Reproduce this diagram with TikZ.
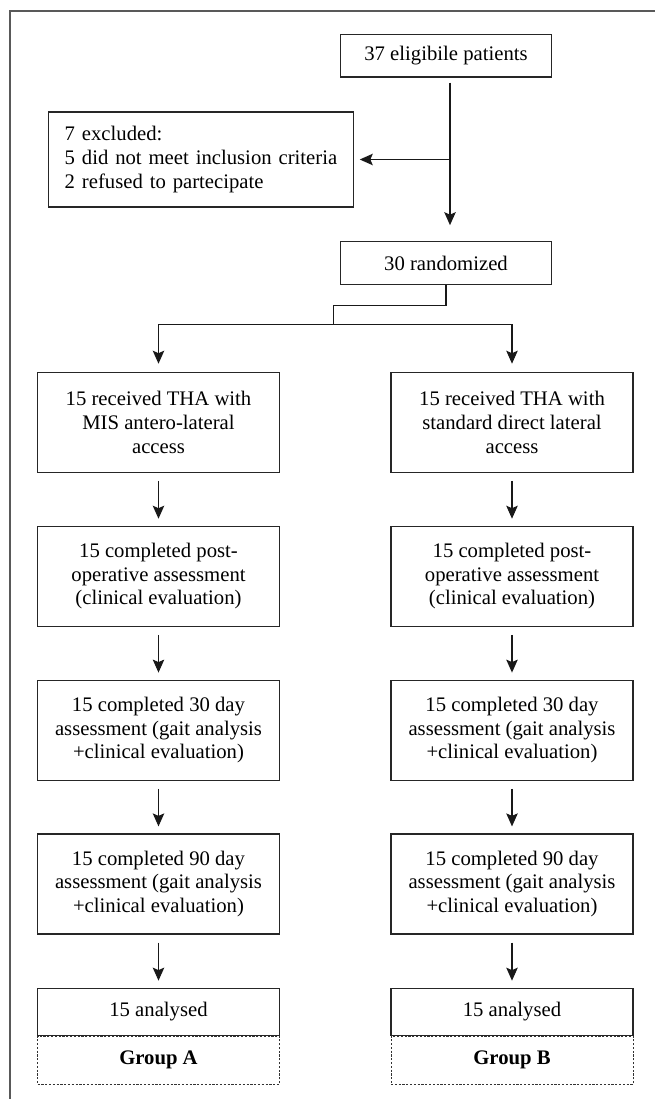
\documentclass[tikz,border=0pt]{standalone}
\usepackage{fontspec}
\setmainfont{Liberation Serif}
\usetikzlibrary{arrows.meta}
\begin{document}
\begin{tikzpicture}[x=1pt,y=-1pt,
  txt/.style={font=\fontsize{20.7}{23.7}\selectfont, text=black},
  box/.style={txt, draw=black!85, line width=1.2pt, minimum width=242pt, minimum height=100pt, align=center, inner sep=0pt},
  topbox/.style={txt, draw=black!85, line width=1.2pt, minimum width=210.5pt, minimum height=42.5pt, inner sep=0pt},
  exbox/.style={txt, draw=black!85, line width=1.2pt, text width=276pt, inner xsep=14.5pt, minimum height=95pt, align=left},
  resbox/.style={txt, draw=black!85, line width=1.2pt, minimum width=242pt, minimum height=47.5pt, inner sep=0pt},
  grpbox/.style={txt, draw=black!80, line width=0.9pt, dash pattern=on 2.2pt off 1.6pt, minimum width=242pt, minimum height=48.5pt, inner sep=0pt, font=\fontsize{20.7}{23.7}\selectfont\bfseries},
  conn/.style={draw=black!90, line width=1.1pt},
  arr/.style={conn, -{Stealth[length=13pt,width=11.5pt,inset=2.5pt]}},
]
\useasboundingbox (0,0) rectangle (655,1099);
\draw[draw=black!65, line width=1.4pt] (660,11) -- (10,11) -- (10,1105);

\node[topbox] (elig) at (446,55.7) {37 eligibile patients};
\node[exbox] (excl) at (200.7,159.5) {\hspace*{2pt}7 excluded:\\\hspace*{2pt}5 did not meet inclusion criteria\\\hspace*{2pt}2 refused to partecipate};
\node[topbox] (rand) at (446,263) {30 randomized};

\node[box] (a1) at (158.5,422.3) {15 received THA with\\MIS antero-lateral\\access};
\node[box] (b1) at (512,422.3) {15 received THA with\\standard direct lateral\\access};
\node[box] (a2) at (158.5,576.3) {15 completed post-\\operative assessment\\(clinical evaluation)};
\node[box] (b2) at (512,576.3) {15 completed post-\\operative assessment\\(clinical evaluation)};
\node[box] (a3) at (158.5,730.2) {15 completed 30 day\\assessment (gait analysis\\+clinical evaluation)};
\node[box] (b3) at (512,730.2) {15 completed 30 day\\assessment (gait analysis\\+clinical evaluation)};
\node[box] (a4) at (158.5,884) {15 completed 90 day\\assessment (gait analysis\\+clinical evaluation)};
\node[box] (b4) at (512,884) {15 completed 90 day\\assessment (gait analysis\\+clinical evaluation)};
\node[resbox] (a5) at (158.5,1012) {15 analysed};
\node[resbox] (b5) at (512,1012) {15 analysed};
\node[grpbox] (ga) at (158.5,1060.2) {Group A};
\node[grpbox] (gb) at (512,1060.2) {Group B};

% top flow
\coordinate (s1) at ([xshift=4pt,yshift=-5pt]elig.south);
\coordinate (j1) at (s1 |- excl.east);
\draw[arr, shorten >=16pt] (s1) -- (s1 |- rand.north);
\draw[arr, shorten >=6pt] (j1) -- (excl.east);

% branch
\coordinate (m) at (333.3,324.5);
\draw[conn] (rand.south) -- ++(0,20.3) -| (m);
\draw[arr, shorten >=8pt] (m) -| (a1.north);
\draw[arr, shorten >=8pt] (m) -| (b1.north);

% columns
\foreach \u/\v in {a1/a2,a2/a3,a3/a4,a4/a5,b1/b2,b2/b3,b3/b4,b4/b5}{
  \draw[arr, shorten <=8pt, shorten >=7pt] (\u.south) -- (\v.north);
}
\end{tikzpicture}
\end{document}
